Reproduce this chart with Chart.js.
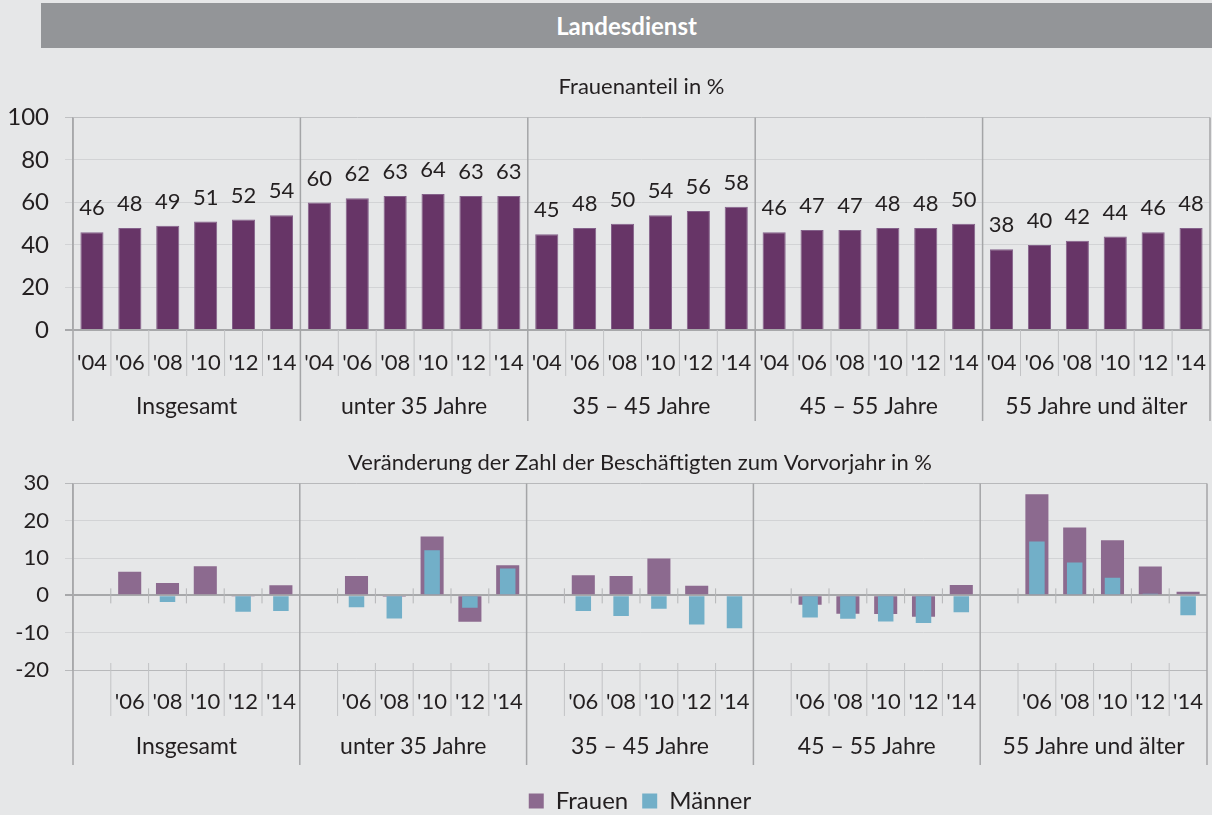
<!DOCTYPE html>
<html lang="de">
<head>
<meta charset="utf-8">
<title>Landesdienst</title>
<script src="https://cdn.jsdelivr.net/npm/chart.js@4.4.1/dist/chart.umd.min.js"></script>
<style>
    html, body { margin: 0; padding: 0; background: #e6e7e8; }
    body { width: 1212px; height: 815px; position: relative; overflow: hidden; font-family: Lato, sans-serif; }
    .header {
        position: absolute; left: 41px; top: 3px; width: 1171px; height: 45px;
        background: #939598; color: #fff; font-weight: bold; font-size: 24px;
        line-height: 45px; text-align: center;
    }
    .box { position: absolute; left: 0; width: 1212px; }
    #topBox { top: 60px; height: 370px; }
    #bottomBox { top: 430px; height: 393px; }
</style>
</head>
<body>
<div class="header">Landesdienst</div>
<div class="box" id="topBox"><canvas id="shareChart"></canvas></div>
<div class="box" id="bottomBox"><canvas id="changeChart"></canvas></div>
<script>
const groups = ['Insgesamt', 'unter 35 Jahre', '35 – 45 Jahre', '45 – 55 Jahre', '55 Jahre und älter'];
const years = ["'04", "'06", "'08", "'10", "'12", "'14"];
const changeYears = ['', "'06", "'08", "'10", "'12", "'14"];

// Frauenanteil in %
const frauenanteil = [
    46, 48, 49, 51, 52, 54,
    60, 62, 63, 64, 63, 63,
    45, 48, 50, 54, 56, 58,
    46, 47, 47, 48, 48, 50,
    38, 40, 42, 44, 46, 48
];

// Veränderung zum Vorvorjahr in %
const frauenChange = [
    null, 6.3, 3.3, 7.8, -0.3, 2.7,
    null, 5.2, -0.4, 15.8, -7.1, 8.1,
    null, 5.4, 5.2, 9.9, 2.6, 0,
    null, -2.5, -4.9, -5.0, -5.7, 2.8,
    null, 27.1, 18.2, 14.8, 7.7, 1.0
];
const maennerChange = [
    null, 0, -1.8, 0, -4.4, -4.2,
    null, -3.2, -6.2, 12.1, -3.3, 7.2,
    null, -4.2, -5.5, -3.6, -7.8, -8.8,
    null, -5.9, -6.3, -7.0, -7.4, -4.5,
    null, 14.4, 8.8, 4.7, 0.4, -5.3
];

const textColor = '#231f20';
Chart.defaults.font.family = 'Lato';
Chart.defaults.color = textColor;

// Gruppenachse: Trennlinien und Gruppennamen unter den Jahren
const groupAxis = {
    id: 'groupAxis',
    afterDraw(chart, args, opts) {
        const { ctx, chartArea: area, scales: { x, y } } = chart;
        const n = chart.data.labels.length;
        const per = n / groups.length;
        const half = (x.getPixelForValue(1) - x.getPixelForValue(0)) / 2;
        const zeroY = y.getPixelForValue(0);
        const line = (x1, y1, x2, y2, color, width) => {
            ctx.beginPath();
            ctx.strokeStyle = color;
            ctx.lineWidth = width;
            ctx.moveTo(x1, y1);
            ctx.lineTo(x2, y2);
            ctx.stroke();
        };
        ctx.save();
        for (let i = 0; i <= n; i++) {
            const px = i < n ? x.getPixelForValue(i) - half : x.getPixelForValue(n - 1) + half;
            if (i % per === 0) {
                line(px, area.top, px, area.bottom + opts.groupDepth, '#a4a5a7', 1.5);
            } else {
                line(px, area.bottom + opts.tickTop, px, area.bottom + opts.tickDepth, '#c2c3c5', 1);
                if (opts.zeroTicks) {
                    line(px, zeroY - 7, px, zeroY + 8, '#b4b5b7', 1);
                }
            }
        }
        ctx.fillStyle = textColor;
        ctx.font = '23px Lato';
        ctx.textAlign = 'center';
        ctx.textBaseline = 'middle';
        groups.forEach((g, k) => {
            const left = x.getPixelForValue(k * per) - half;
            const right = x.getPixelForValue(k * per + per - 1) + half;
            ctx.fillText(g, (left + right) / 2, area.bottom + opts.labelOffset);
        });
        ctx.restore();
    }
};

// Werte über den Balken
const valueLabels = {
    id: 'valueLabels',
    afterDatasetsDraw(chart) {
        const { ctx } = chart;
        const meta = chart.getDatasetMeta(0);
        const values = chart.data.datasets[0].data;
        ctx.save();
        ctx.fillStyle = textColor;
        ctx.font = '22px Lato';
        ctx.textAlign = 'center';
        ctx.textBaseline = 'middle';
        meta.data.forEach((bar, i) => {
            ctx.fillText(values[i], bar.x, bar.y - 24);
        });
        ctx.restore();
    }
};

const edgeGrid = (zero, edge, normal) => ctx => {
    if (ctx.tick.value === 0) return zero;
    if (ctx.index === 0 || ctx.index === ctx.chart.scales.y.ticks.length - 1) return edge;
    return normal;
};

// keine Extra-Ränder der Kategorieachse
const fitX = h => s => {
    s.height = h;
    s.paddingLeft = 0;
    s.paddingRight = 0;
};

new Chart(document.getElementById('shareChart'), {
    type: 'bar',
    data: {
        labels: groups.flatMap(() => years),
        datasets: [{
            label: 'Frauenanteil',
            data: frauenanteil,
            backgroundColor: '#673567',
            borderColor: '#84618a',
            borderWidth: 1,
            barPercentage: 0.61,
            categoryPercentage: 1
        }]
    },
    options: {
        responsive: true,
        maintainAspectRatio: false,
        animation: false,
        events: [],
        layout: { padding: { left: 0, right: 2, top: 0, bottom: 0 } },
        plugins: {
            legend: { display: false },
            tooltip: { enabled: false },
            title: {
                display: true,
                fullSize: false,
                text: 'Frauenanteil in %',
                color: textColor,
                font: { size: 22, weight: 'normal' },
                padding: { top: 14, bottom: 17 }
            },
            groupAxis: { groupDepth: 91, tickTop: 0, tickDepth: 46, labelOffset: 77, zeroTicks: false }
        },
        scales: {
            x: {
                grid: { display: false },
                border: { display: false },
                ticks: { font: { size: 22 }, padding: 12, maxRotation: 0, autoSkip: false },
                afterFit: fitX(100)
            },
            y: {
                min: 0,
                max: 100,
                ticks: { stepSize: 20, padding: 16, font: { size: 24 } },
                grid: {
                    color: edgeGrid('#a7a8aa', '#bfc0c2', '#d2d3d5'),
                    lineWidth: ctx => ctx.tick.value === 0 ? 2 : 1,
                    tickLength: 8
                },
                border: { color: '#b1b2b4', width: 1.5 },
                afterFit: s => { s.width = 73; }
            }
        }
    },
    plugins: [groupAxis, valueLabels]
});

new Chart(document.getElementById('changeChart'), {
    type: 'bar',
    data: {
        labels: groups.flatMap(() => changeYears),
        datasets: [{
            label: 'Frauen',
            data: frauenChange,
            backgroundColor: '#8c6a8f',
            barPercentage: 0.61,
            categoryPercentage: 1,
            order: 1
        }, {
            label: 'Männer',
            data: maennerChange,
            backgroundColor: '#72afc8',
            barPercentage: 0.41,
            categoryPercentage: 1,
            order: 0
        }]
    },
    options: {
        responsive: true,
        maintainAspectRatio: false,
        animation: false,
        events: [],
        layout: { padding: { left: 0, right: 5, top: 0, bottom: 0 } },
        datasets: { bar: { grouped: false } },
        plugins: {
            legend: {
                position: 'bottom',
                fullSize: false,
                labels: {
                    boxWidth: 15,
                    boxHeight: 15,
                    padding: 14,
                    color: textColor,
                    font: { size: 24 },
                    sort: (a, b) => a.datasetIndex - b.datasetIndex
                }
            },
            tooltip: { enabled: false },
            title: {
                display: true,
                fullSize: false,
                text: 'Veränderung der Zahl der Beschäftigten zum Vorvorjahr in %',
                color: textColor,
                font: { size: 22, weight: 'normal' },
                padding: { top: 20, bottom: 7 }
            },
            groupAxis: { groupDepth: 95, tickTop: -7, tickDepth: 46, labelOffset: 77, zeroTicks: true }
        },
        scales: {
            x: {
                grid: { display: false },
                border: { display: false },
                ticks: { font: { size: 22 }, padding: 11, maxRotation: 0, autoSkip: false },
                afterFit: fitX(105)
            },
            y: {
                min: -20,
                max: 30,
                ticks: { stepSize: 10, padding: 16, font: { size: 22 } },
                grid: {
                    color: edgeGrid('#a7a8aa', '#b8b9bb', '#d2d3d5'),
                    lineWidth: ctx => ctx.tick.value === 0 ? 2 : 1,
                    tickLength: 8
                },
                border: { color: '#b1b2b4', width: 1.5 },
                afterFit: s => { s.width = 73; }
            }
        }
    },
    plugins: [groupAxis]
});
</script>
</body>
</html>
